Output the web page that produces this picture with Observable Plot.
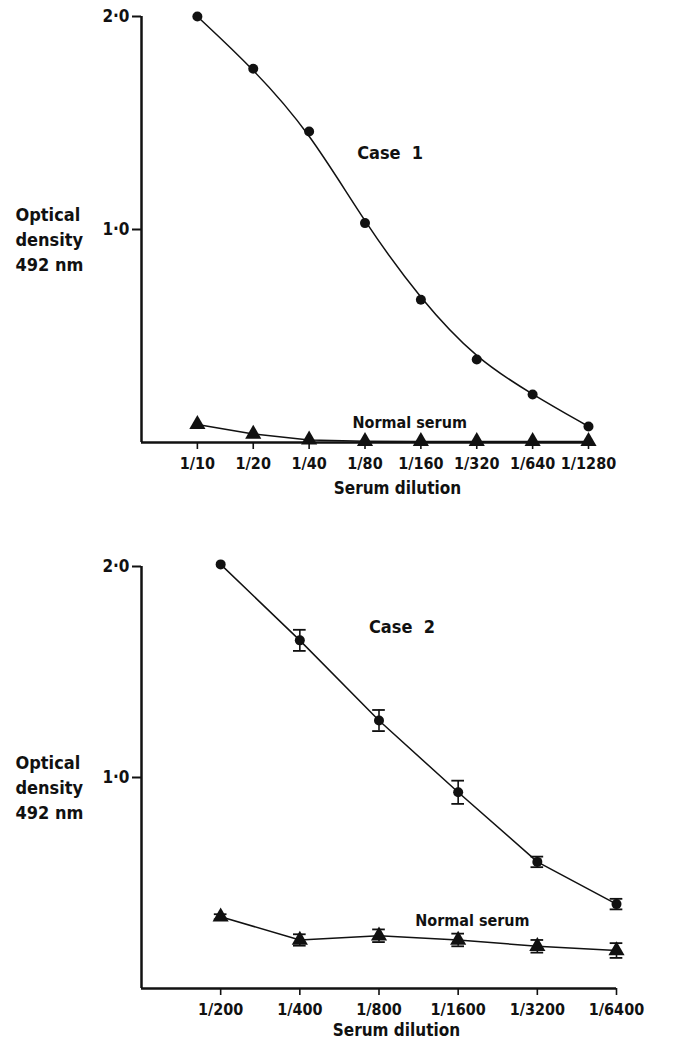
<!DOCTYPE html>
<html>
<head>
<meta charset="utf-8">
<script src="https://cdn.jsdelivr.net/npm/d3@7"></script>
<script src="https://cdn.jsdelivr.net/npm/@observablehq/plot@0.6"></script>
<style>
  html, body { margin: 0; padding: 0; background: #fff; }
  #chart svg { display: block; }
</style>
</head>
<body>
<div id="chart"></div>
<script>
// ---- Data ----
const topCats = ["1/10", "1/20", "1/40", "1/80", "1/160", "1/320", "1/640", "1/1280"];
const topCase = [2.0, 1.755, 1.46, 1.03, 0.67, 0.39, 0.225, 0.075];
const topNormal = [0.085, 0.04, 0.012, 0.006, 0.005, 0.005, 0.005, 0.005];

const botCats = ["1/200", "1/400", "1/800", "1/1600", "1/3200", "1/6400"];
const botCase = [2.01, 1.65, 1.27, 0.93, 0.60, 0.40];
const botCaseErr = [0, 0.05, 0.05, 0.055, 0.025, 0.025];
const botNormal = [0.34, 0.23, 0.25, 0.23, 0.20, 0.18];
const botNormalErr = [0.012, 0.027, 0.03, 0.03, 0.03, 0.035];

const yTicks = [1, 2];
const fontFamily = "'DejaVu Sans Condensed', 'DejaVu Sans', sans-serif";
const ink = "#111";

const fmtY = d => d.toFixed(1).replace(".", "\u00b7");

function panel({cats, caseVals, caseErr, normVals, normErr, caseLabel, caseCurve,
                marginTop, marginBottom, marginRight, height,
                caseAt, normAt, dilAt, dilDy}) {
  const idx = cats.map((_, i) => i);
  const caseData = idx.map(i => ({i, v: caseVals[i], e: caseErr ? caseErr[i] : 0}));
  const normData = idx.map(i => ({i, v: normVals[i], e: normErr ? normErr[i] : 0}));
  const capW = 0.08;
  const errMarks = [];
  for (const data of [caseData, normData]) {
    const withErr = data.filter(d => d.e > 0);
    errMarks.push(
      Plot.ruleX(withErr, {x: "i", y1: d => d.v - d.e, y2: d => d.v + d.e, stroke: ink, strokeWidth: 1.6}),
      Plot.ruleY(withErr, {y: d => d.v + d.e, x1: d => d.i - capW, x2: d => d.i + capW, stroke: ink, strokeWidth: 1.8}),
      Plot.ruleY(withErr, {y: d => d.v - d.e, x1: d => d.i - capW, x2: d => d.i + capW, stroke: ink, strokeWidth: 1.8})
    );
  }
  return Plot.plot({
    width: 700,
    height,
    marginLeft: 141,
    marginRight,
    marginTop,
    marginBottom,
    style: {fontFamily, fontSize: "16px", fontWeight: "bold", color: ink, background: "#fff"},
    x: {type: "linear", domain: [-1, cats.length - 1], axis: null},
    y: {domain: [0, 2], axis: null},
    marks: [
      // axes
      Plot.ruleX([-1], {y1: 0, y2: 2, stroke: ink, strokeWidth: 2.5}),
      Plot.ruleY([0], {stroke: ink, strokeWidth: 2.5}),
      Plot.axisY({ticks: yTicks, tickFormat: fmtY, tickSize: 9, tickPadding: 3, stroke: ink, strokeWidth: 2, fontSize: 17, fontWeight: "bold", label: null, anchor: "left"}),
      Plot.axisX({ticks: idx, tickFormat: i => cats[i], tickSize: 7, tickPadding: 8, stroke: ink, strokeWidth: 1.6, fontSize: 16, fontWeight: "bold", label: null, anchor: "bottom"}),
      // series
      Plot.line(caseData, {x: "i", y: "v", curve: caseCurve, stroke: ink, strokeWidth: 1.5}),
      Plot.line(normData, {x: "i", y: "v", stroke: ink, strokeWidth: 1.5}),
      ...errMarks,
      Plot.dot(caseData, {x: "i", y: "v", r: 5, fill: ink, stroke: "none"}),
      Plot.dot(normData, {x: "i", y: "v", r: 6, symbol: "triangle", fill: ink, stroke: "none"}),
      // annotations
      Plot.text([caseLabel], {x: caseAt[0], y: caseAt[1], text: d => d, fontSize: 18, fontWeight: "bold", fill: ink}),
      Plot.text(["Normal serum"], {x: normAt[0], y: normAt[1], text: d => d, fontSize: 16, fontWeight: "bold", fill: ink}),
      Plot.text(["Serum dilution"], {x: dilAt, frameAnchor: "bottom", dy: dilDy, text: d => d, fontSize: 17, fontWeight: "bold", fill: ink}),
      Plot.text(["Optical\ndensity\n492 nm"], {frameAnchor: "left", y: 0.96, dx: -126, textAnchor: "start", lineHeight: 1.4, text: d => d, fontSize: 18, fontWeight: "bold", fill: ink})
    ]
  });
}

const topPanel = panel({
  cats: topCats, caseVals: topCase, caseErr: null, normVals: topNormal, normErr: null,
  caseLabel: "Case  1", caseCurve: "basis",
  marginTop: 16, marginBottom: 78, marginRight: 112, height: 520,
  caseAt: [3.45, 1.36], normAt: [3.8, 0.09], dilAt: 3.58, dilDy: 51
});
const bottomPanel = panel({
  cats: botCats, caseVals: botCase, caseErr: botCaseErr, normVals: botNormal, normErr: botNormalErr,
  caseLabel: "Case  2", caseCurve: "linear",
  marginTop: 46, marginBottom: 53, marginRight: 84, height: 521,
  caseAt: [2.29, 1.71], normAt: [3.18, 0.32], dilAt: 2.22, dilDy: 47
});
document.getElementById("chart").append(topPanel, bottomPanel);
</script>
</body>
</html>
